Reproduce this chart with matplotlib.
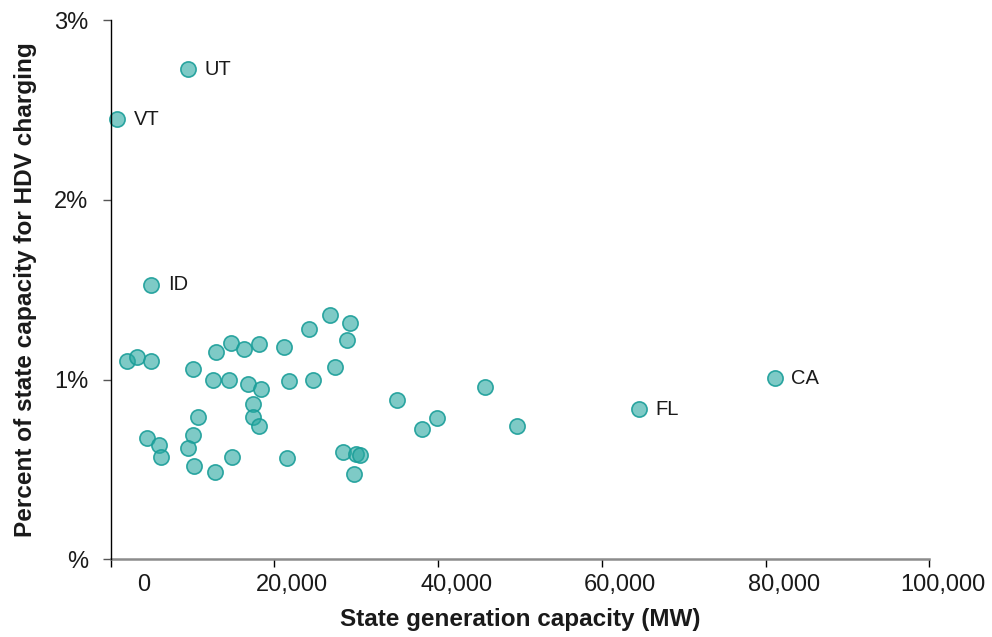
import matplotlib
matplotlib.use("Agg")
import matplotlib.pyplot as plt
import matplotlib.transforms as mtransforms

plt.rcParams['font.family'] = ['Liberation Sans', 'DejaVu Sans']

# State generation capacity (MW) and percent of capacity for HDV charging (%)
capacity_mw = [
    1976, 3195, 4902, 10024, 12866, 14658, 16317, 18110, 21195, 24207,
    26768, 29207, 28841, 27414, 12537, 14488, 16732, 18317, 21768, 24658,
    17378, 17378, 18073, 10671, 4415, 5915, 6195, 10024, 9415, 10146,
    12780, 14854, 21561, 28390, 30024, 30512, 29780, 34939, 45707, 39817,
    38073, 49658,
]
pct_hdv = [
    1.103, 1.124, 1.103, 1.057, 1.151, 1.203, 1.171, 1.199, 1.183, 1.283,
    1.361, 1.314, 1.218, 1.071, 0.997, 0.997, 0.977, 0.946, 0.992, 0.997,
    0.866, 0.793, 0.743, 0.792, 0.676, 0.634, 0.569, 0.691, 0.617, 0.517,
    0.486, 0.571, 0.565, 0.597, 0.586, 0.582, 0.475, 0.886, 0.960, 0.788,
    0.723, 0.743,
]

labeled_states = ['UT', 'VT', 'ID', 'CA', 'FL']
labeled_capacity = [9415, 756, 4939, 81120, 64490]
labeled_pct = [2.726, 2.449, 1.528, 1.007, 0.834]

x_ticks = [0, 20000, 40000, 60000, 80000, 100000]
x_tick_labels = ['0', '20,000', '40,000', '60,000', '80,000', '100,000']
y_ticks = [0, 1, 2, 3]
y_tick_labels = ['%', '1%', '2%', '3%']

fig = plt.figure(figsize=(9.92, 6.37), dpi=100)
ax = fig.add_axes([0.1116, 0.1220, 0.8252, 0.8466])

face = (0.16, 0.66, 0.63, 0.6)
edge = (0.10, 0.62, 0.60, 0.9)
ax.scatter(capacity_mw + labeled_capacity, pct_hdv + labeled_pct, s=120,
           facecolor=face, edgecolor=edge, linewidth=1.2, zorder=3, clip_on=False)

for name, x, y in zip(labeled_states, labeled_capacity, labeled_pct):
    ax.annotate(name, (x, y), xytext=(12, 0), textcoords='offset points',
                ha='left', va='center', fontsize=14.5, color='#1a1a1a')

ax.set_xlim(0, 100000)
ax.set_ylim(0, 3)
ax.set_xticks(x_ticks, x_tick_labels)
ax.set_yticks(y_ticks, y_tick_labels)

for s in ['top', 'right']:
    ax.spines[s].set_visible(False)
ax.spines['left'].set_color('black')
ax.spines['left'].set_linewidth(1.0)
ax.spines['bottom'].set_color('#8c8c8c')
ax.spines['bottom'].set_linewidth(1.8)
ax.spines['left'].set_zorder(4)

ax.tick_params(axis='x', direction='out', length=5.5, width=1.0, color='black',
               labelsize=17, labelcolor='#1a1a1a', pad=5)
ax.tick_params(axis='y', direction='out', length=5.5, width=1.0, color='#555555',
               labelsize=17, labelcolor='#1a1a1a', pad=10.5)

# Tick labels in the reference sit slightly to the right of their ticks
offsets_px = [33, 18, 18, 18, 18, 14]
for lab, dx in zip(ax.get_xticklabels(), offsets_px):
    lab.set_transform(lab.get_transform() +
                      mtransforms.ScaledTranslation(dx / 100.0, 0, fig.dpi_scale_trans))

ax.set_xlabel('State generation capacity (MW)', fontsize=17.5, fontweight='bold',
              color='#1a1a1a')
ax.xaxis.label.set_verticalalignment('center')
ax.xaxis.set_label_coords(0.5, -0.1125)
ax.set_ylabel('Percent of state capacity for HDV charging', fontsize=17.6,
              fontweight='bold', color='#1a1a1a')
ax.yaxis.label.set_verticalalignment('center')
ax.yaxis.set_label_coords(-0.104, 0.5)

fig.savefig('out.png', dpi=100)
